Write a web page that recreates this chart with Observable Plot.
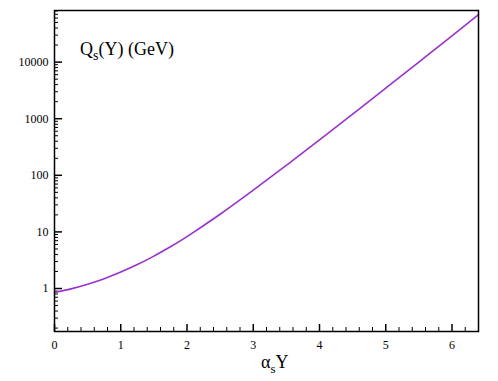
<!DOCTYPE html>
<html>
<head>
<meta charset="utf-8">
<script src="https://cdn.jsdelivr.net/npm/d3@7"></script>
<script src="https://cdn.jsdelivr.net/npm/@observablehq/plot@0.6"></script>
<style>
  html, body { margin: 0; padding: 0; background: #fff; }
  #chart svg { display: block; }
  #chart svg, #chart svg text { font-family: "Liberation Serif", "Times New Roman", serif !important; }
</style>
</head>
<body>
<div id="chart"></div>
<script>
// Curve samples: alpha_s*Y and Q_s(Y) in GeV
const alphaY = [0, 0.25, 0.5, 0.75, 1.0, 1.25, 1.5, 1.75, 2.0, 2.5, 3.0, 3.5, 4.0, 4.5, 5.0, 5.5, 6.0, 6.4];
const qs     = [0.851, 0.986, 1.19, 1.49, 1.95, 2.65, 3.74, 5.47, 8.27, 20.5, 54.6, 150, 423, 1205, 3467, 10020, 29170, 68870];

const xMajor = [0, 1, 2, 3, 4, 5, 6];
const xMinor = [0.2,0.4,0.6,0.8,1.2,1.4,1.6,1.8,2.2,2.4,2.6,2.8,3.2,3.4,3.6,3.8,4.2,4.4,4.6,4.8,5.2,5.4,5.6,5.8,6.2];
const yMajor = [1, 10, 100, 1000, 10000];
const yMinor = [0.2,0.3,0.4,0.5,0.6,0.7,0.8,0.9,
                2,3,4,5,6,7,8,9,20,30,40,50,60,70,80,90,
                200,300,400,500,600,700,800,900,2000,3000,4000,5000,6000,7000,8000,9000,
                20000,30000,40000,50000,60000,70000,80000];

const data = alphaY.map((x, i) => ({x, y: qs[i]}));

const W = 498, H = 381;
const mL = 54, mR = 20, mT = 10, mB = 50;
const pw = W - mL - mR, ph = H - mT - mB;
const font = "Liberation Serif, Times New Roman, serif";

const chart = Plot.plot({
  width: W, height: H,
  marginLeft: mL, marginRight: mR, marginTop: mT, marginBottom: mB,
  style: {fontFamily: font, fontSize: "12px", color: "#000", background: "#fff"},
  x: {domain: [0, 6.4]},
  y: {type: "log", domain: [0.174, 81600]},
  marks: [
    Plot.axisX(xMajor, {tickSize: 0, tickPadding: 9, label: null, fontSize: 12}),
    Plot.axisY(yMajor, {tickSize: 0, tickPadding: 6, label: null, fontSize: 12, tickFormat: d => String(d)}),
    Plot.tickX(xMajor, {x: d => d, insetTop: ph - 7, stroke: "#000", strokeWidth: 1.5}),
    Plot.tickX(xMinor, {x: d => d, insetTop: ph - 4, stroke: "#000", strokeWidth: 1}),
    Plot.tickY(yMajor, {y: d => d, insetRight: pw - 8, stroke: "#000", strokeWidth: 1.5}),
    Plot.tickY(yMinor, {y: d => d, insetRight: pw - 4, stroke: "#000", strokeWidth: 1}),
    Plot.line(data, {x: "x", y: "y", stroke: "#9933cc", strokeWidth: 1.6, curve: "natural"}),
    Plot.frame({stroke: "#000", strokeWidth: 1.5})
  ]
});

const svg = d3.select(chart);
const t1 = svg.append("text")
  .attr("x", 80).attr("y", 55)
  .attr("text-anchor", "start")
  .style("font-family", font).style("font-size", "18px").attr("fill", "#000");
t1.append("tspan").text("Q");
t1.append("tspan").attr("dy", 5).style("font-size", "14px").text("s");
t1.append("tspan").attr("dy", -5).text("(Y) (GeV)");

const t2 = svg.append("text")
  .attr("x", 261).attr("y", 368)
  .attr("text-anchor", "start")
  .style("font-family", font).style("font-size", "18px").attr("fill", "#000");
t2.append("tspan").text("α");
t2.append("tspan").attr("dy", 5).style("font-size", "13px").text("s");
t2.append("tspan").attr("dy", -5).text("Y");

document.getElementById("chart").append(chart);
</script>
</body>
</html>
